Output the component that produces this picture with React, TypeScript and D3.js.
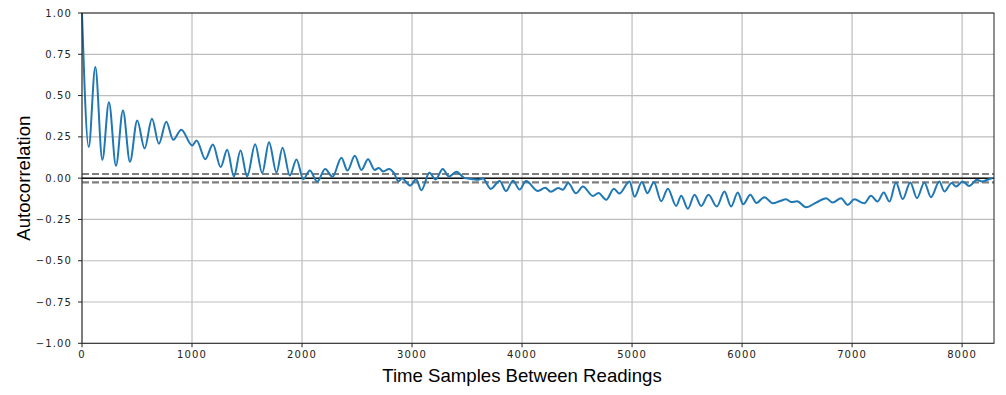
import React from "react";
import * as d3 from "d3";

const lags: number[] = [
  0, 61, 121, 185, 245, 309, 372, 436, 502, 569, 636, 699, 766, 829, 902, 1002, 1042, 1120, 1190, 1260,
  1320, 1381, 1441, 1501, 1574, 1638, 1700, 1768, 1823, 1889, 1950, 2011, 2071, 2138, 2210, 2277, 2358,
  2413, 2480, 2540, 2600, 2661, 2697, 2737, 2791, 2837, 2876, 2910, 2985, 3036, 3085, 3158, 3215, 3279,
  3335, 3403, 3479, 3540, 3600, 3645, 3715, 3797, 3854, 3918, 3978, 4036, 4145, 4210, 4262, 4330, 4370,
  4420, 4490, 4553, 4644, 4695, 4765, 4835, 4884, 4977, 5023, 5089, 5140, 5198, 5265, 5325, 5401, 5447,
  5507, 5568, 5628, 5695, 5770, 5840, 5900, 5961, 6010, 6075, 6130, 6203, 6279, 6340, 6400, 6450, 6500,
  6582, 6673, 6764, 6824, 6900, 6960, 7021, 7111, 7172, 7230, 7288, 7340, 7399, 7460, 7529, 7590, 7657,
  7717, 7793, 7839, 7905, 7945, 8005, 8065, 8135, 8180, 8230, 8277,
];
const acf: number[] = [
  1.0, 0.188, 0.673, 0.111, 0.46, 0.075, 0.41, 0.099, 0.349, 0.18, 0.359, 0.208, 0.341, 0.232, 0.293, 0.198, 0.228, 0.115, 0.204, 0.067,
  0.172, 0.01, 0.167, 0.01, 0.206, 0.03, 0.218, 0.034, 0.184, 0.016, 0.113, -0.006, 0.046, -0.021, 0.056, 0.008, 0.124,
  0.046, 0.135, 0.05, 0.115, 0.05, 0.062, 0.04, 0.056, 0.03, -0.02, -0.002, -0.045, -0.006, -0.073, 0.032, -0.008, 0.056,
  0.01, 0.038, 0.0, -0.005, -0.01, -0.002, -0.065, -0.017, -0.078, -0.015, -0.069, -0.018, -0.078, -0.058, -0.082, -0.06, -0.07,
  -0.03, -0.092, -0.051, -0.108, -0.09, -0.131, -0.064, -0.093, -0.02, -0.113, -0.023, -0.091, -0.025, -0.14, -0.064, -0.168, -0.106,
  -0.185, -0.1, -0.168, -0.1, -0.172, -0.081, -0.172, -0.087, -0.158, -0.1, -0.15, -0.115, -0.152, -0.14, -0.128, -0.145, -0.14,
  -0.176, -0.148, -0.121, -0.148, -0.121, -0.162, -0.128, -0.152, -0.107, -0.142, -0.087, -0.142, -0.026, -0.127, -0.026, -0.121, -0.026,
  -0.115, -0.02, -0.081, -0.03, -0.051, -0.02, -0.047, -0.01, -0.02, -0.01, 0.0,
];

const xTicks: number[] = [0, 1000, 2000, 3000, 4000, 5000, 6000, 7000, 8000];
const yTicks: number[] = [-1, -0.75, -0.5, -0.25, 0, 0.25, 0.5, 0.75, 1];
const confBand = 0.025;
const xMax = 8290;

export default function App() {
  const W = 1006, H = 395;
  const left = 82, right = 994, top = 13, bottom = 343.3;
  const x = d3.scaleLinear().domain([0, xMax]).range([left, right]);
  const y = d3.scaleLinear().domain([-1, 1]).range([bottom, top]);
  const pts: [number, number][] = lags.map((l, i) => [l, acf[i]]);
  const line = d3
    .line<[number, number]>()
    .x((d) => x(d[0]))
    .y((d) => y(d[1]))
    .curve(d3.curveMonotoneX);
  const tickFont = "'DejaVu Sans', Verdana, sans-serif";
  const labelFont = "'Liberation Sans', Arial, sans-serif";
  return (
    <svg
      width={W}
      height={H}
      style={{ position: "absolute", left: 0, top: 0, background: "#fff" }}
    >
      <rect x={0} y={0} width={W} height={H} fill="#fff" />
      {xTicks.map((t) => (
        <line key={"gx" + t} x1={x(t)} x2={x(t)} y1={top} y2={bottom} stroke="#bdbdbd" strokeWidth={1.2} />
      ))}
      {yTicks.map((t) => (
        <line key={"gy" + t} x1={left} x2={right} y1={y(t)} y2={y(t)} stroke="#bdbdbd" strokeWidth={1.2} />
      ))}
      <line x1={left} x2={right} y1={y(confBand)} y2={y(confBand)} stroke="#7f7f7f" strokeWidth={2.2} strokeDasharray="7,3" />
      <line x1={left} x2={right} y1={y(-confBand)} y2={y(-confBand)} stroke="#7f7f7f" strokeWidth={2.2} strokeDasharray="7,3" />
      <line x1={left} x2={right} y1={y(0)} y2={y(0)} stroke="#111" strokeWidth={1.5} />
      <path d={line(pts) || ""} fill="none" stroke="#1f77b4" strokeWidth={2} strokeLinejoin="round" />
      <rect x={left} y={top} width={right - left} height={bottom - top} fill="none" stroke="#222" strokeWidth={1} />
      {xTicks.map((t) => (
        <g key={"xt" + t}>
          <line x1={x(t)} x2={x(t)} y1={bottom} y2={bottom + 4} stroke="#222" />
          <text x={x(t)} y={358} textAnchor="middle" fontFamily={tickFont} fontSize={10} letterSpacing={1.1} fill="#222">
            {t}
          </text>
        </g>
      ))}
      {yTicks.map((t) => (
        <g key={"yt" + t}>
          <line x1={left - 4} x2={left} y1={y(t)} y2={y(t)} stroke="#222" />
          <text x={72} y={y(t) + 3.6} textAnchor="end" fontFamily={tickFont} fontSize={10} letterSpacing={1.1} fill="#222">
            {d3.format(".2f")(t).replace("-", "\u2212")}
          </text>
        </g>
      ))}
      <text x={522} y={381.5} textAnchor="middle" fontFamily={labelFont} fontSize={18.6} fill="#000">
        Time Samples Between Readings
      </text>
      <text
        transform={`translate(29.5, ${(top + bottom) / 2}) rotate(-90)`}
        textAnchor="middle"
        fontFamily={labelFont}
        fontSize={18.6}
        fill="#000"
      >
        Autocorrelation
      </text>
    </svg>
  );
}
